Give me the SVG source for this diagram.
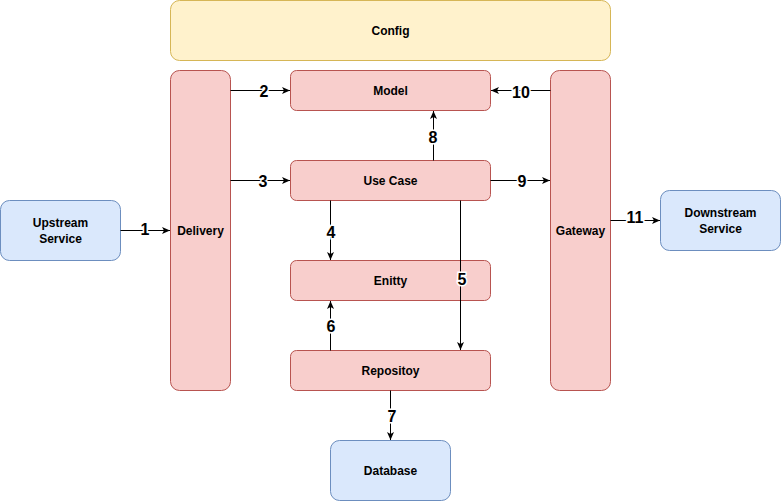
<svg xmlns="http://www.w3.org/2000/svg" width="781" height="501" viewBox="0 0 781 501">
<defs>
<marker id="arr" markerWidth="10" markerHeight="8" refX="8" refY="4" orient="auto" markerUnits="userSpaceOnUse">
<path d="M0,0.5 L8,4 L0,7.5 L2,4 Z" fill="#000"/>
</marker>
<style>
.red{fill:#f8cecc;stroke:#b85450;stroke-width:1}
.blue{fill:#dae8fc;stroke:#6c8ebf;stroke-width:1}
.yel{fill:#fff2cc;stroke:#d6b656;stroke-width:1}
.t{font-family:"Liberation Sans",Arial,sans-serif;font-size:12px;font-weight:bold;fill:#000;text-anchor:middle;dominant-baseline:central}
.e{stroke:#000;stroke-width:1;fill:none;marker-end:url(#arr)}
.l{font-family:"Liberation Sans",Arial,sans-serif;font-size:16px;font-weight:bold;fill:#000;text-anchor:middle;dominant-baseline:central;stroke:#fff;stroke-width:3;paint-order:stroke}
</style>
</defs>
<rect width="781" height="501" fill="#fff"/>
<g id="config"><rect class="yel" x="170.5" y="0.5" width="440" height="60" rx="9"/><text class="t" x="390.5" y="31">Config</text></g>
<g id="delivery"><rect class="red" x="170.5" y="70.5" width="60" height="320" rx="9"/><text class="t" x="200.5" y="231">Delivery</text></g>
<g id="gateway"><rect class="red" x="550.5" y="70.5" width="60" height="320" rx="9"/><text class="t" x="580.5" y="231">Gateway</text></g>
<g id="model"><rect class="red" x="290.5" y="70.5" width="200" height="40" rx="6"/><text class="t" x="390.5" y="91">Model</text></g>
<g id="usecase"><rect class="red" x="290.5" y="160.5" width="200" height="40" rx="6"/><text class="t" x="390.5" y="181">Use Case</text></g>
<g id="entity"><rect class="red" x="290.5" y="260.5" width="200" height="40" rx="6"/><text class="t" x="390.5" y="281">Enitty</text></g>
<g id="repository"><rect class="red" x="290.5" y="350.5" width="200" height="40" rx="6"/><text class="t" x="390.5" y="371">Repositoy</text></g>
<g id="upstream"><rect class="blue" x="0.5" y="200.5" width="120" height="60" rx="9"/><text class="t" x="60.5" y="223">Upstream</text><text class="t" x="60.5" y="239">Service</text></g>
<g id="downstream"><rect class="blue" x="660.5" y="190.5" width="120" height="60" rx="9"/><text class="t" x="720.5" y="213">Downstream</text><text class="t" x="720.5" y="229">Service</text></g>
<g id="database"><rect class="blue" x="330.5" y="440.5" width="120" height="60" rx="9"/><text class="t" x="390.5" y="471">Database</text></g>
<g id="connectors">
<path class="e" d="M120.5,230.5 H170"/>
<path class="e" d="M230.5,90.5 H290"/>
<path class="e" d="M230.5,180.5 H290"/>
<path class="e" d="M330.5,200.5 V260"/>
<path class="e" d="M460.5,200.5 V350"/>
<path class="e" d="M330.5,350.5 V301"/>
<path class="e" d="M390.5,390.5 V440"/>
<path class="e" d="M433.5,160.5 V111"/>
<path class="e" d="M490.5,180.5 H550"/>
<path class="e" d="M550.5,90.5 H491"/>
<path class="e" d="M610.5,220.5 H660"/>
<text class="l" x="145" y="229">1</text>
<text class="l" x="264" y="91">2</text>
<text class="l" x="263" y="181">3</text>
<text class="l" x="331" y="232">4</text>
<text class="l" x="462" y="279">5</text>
<text class="l" x="331" y="326">6</text>
<text class="l" x="392" y="416">7</text>
<text class="l" x="433" y="137">8</text>
<text class="l" x="522" y="181">9</text>
<text class="l" x="521" y="92">10</text>
<text class="l" x="635" y="217">11</text>
</g>
</svg>
